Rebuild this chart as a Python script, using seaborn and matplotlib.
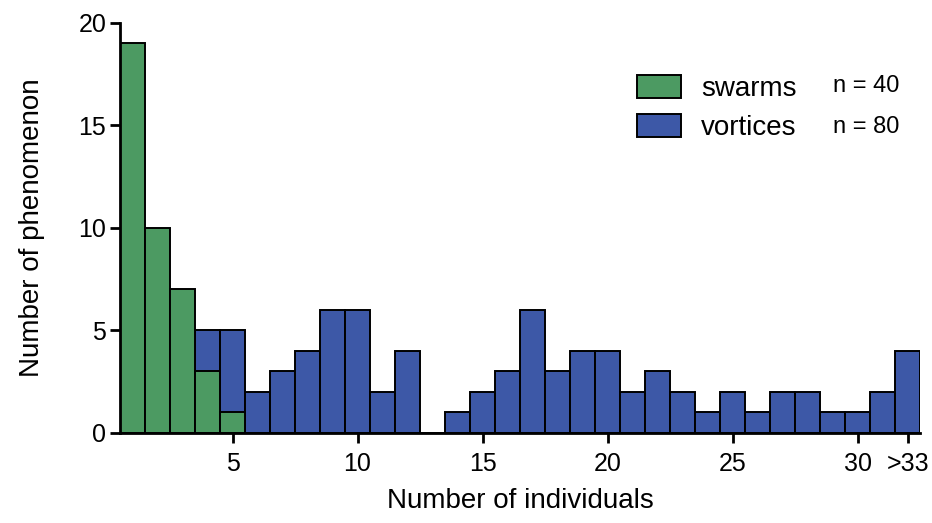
import numpy as np
import pandas as pd
import seaborn as sns
import matplotlib.pyplot as plt
from matplotlib.patches import Patch

# bin positions (32 is the ">33" bin)
positions = list(range(1, 33))
swarms = [19, 10, 7, 3, 1] + [0] * 27
vortices = [0, 0, 0, 5, 5, 2, 3, 4, 6, 6, 2, 4, 0, 1, 2, 3, 6, 3, 4, 4,
            2, 3, 2, 1, 2, 1, 2, 2, 1, 1, 2, 4]
tick_pos = [5, 10, 15, 20, 25, 30, 32]
tick_labels = ['5', '10', '15', '20', '25', '30', '>33']
n_labels = ['n = 40', 'n = 80']

green = '#4c9a62'
blue = '#3d58a7'

sns.set_theme(style='ticks')
plt.rcParams['font.family'] = ['Liberation Sans', 'DejaVu Sans']
plt.rcParams['text.color'] = 'black'
plt.rcParams['axes.labelcolor'] = 'black'

df = pd.DataFrame({'pos': positions, 'swarms': swarms, 'vortices': vortices})

fig = plt.figure(figsize=(9.32, 5.23), dpi=100)
ax = fig.add_axes([0.1288, 0.1721, 0.8584, 0.784])

sns.barplot(data=df, x='pos', y='vortices', native_scale=True, width=1,
            color=blue, saturation=1, edgecolor='black', linewidth=1.4, ax=ax)
sns.barplot(data=df[df.swarms > 0], x='pos', y='swarms', native_scale=True, width=1,
            color=green, saturation=1, edgecolor='black', linewidth=1.4, ax=ax)

ax.set_xlim(0.5, 32.5)
ax.set_ylim(0, 20)
ax.set_yticks([0, 5, 10, 15, 20])
ax.set_xticks(tick_pos)
ax.set_xticklabels(tick_labels)
ax.tick_params(axis='both', labelsize=18, width=2, length=7, color='black',
               labelcolor='black')
ax.tick_params(axis='x', pad=7)
ax.tick_params(axis='y', pad=3)
for s in ['top', 'right']:
    ax.spines[s].set_visible(False)
for s in ['left', 'bottom']:
    ax.spines[s].set_linewidth(2)
    ax.spines[s].set_color('black')

ax.set_xlabel('Number of individuals', fontsize=20, labelpad=8)
ax.set_ylabel('Number of phenomenon', fontsize=20, labelpad=24)

handles = [Patch(facecolor=green, edgecolor='black', linewidth=1.4),
           Patch(facecolor=blue, edgecolor='black', linewidth=1.4)]
leg = ax.legend(handles, ['swarms', 'vortices'], loc='upper left',
                bbox_to_anchor=(0.646, 0.874), frameon=False, fontsize=20,
                borderaxespad=0, borderpad=0,
                handlelength=1.6, handleheight=0.9, handletextpad=0.7,
                labelspacing=0.45)
fig.text(0.894, 0.835, n_labels[0], fontsize=17, ha='left', va='center')
fig.text(0.894, 0.758, n_labels[1], fontsize=17, ha='left', va='center')

fig.savefig('out.png', dpi=100)
